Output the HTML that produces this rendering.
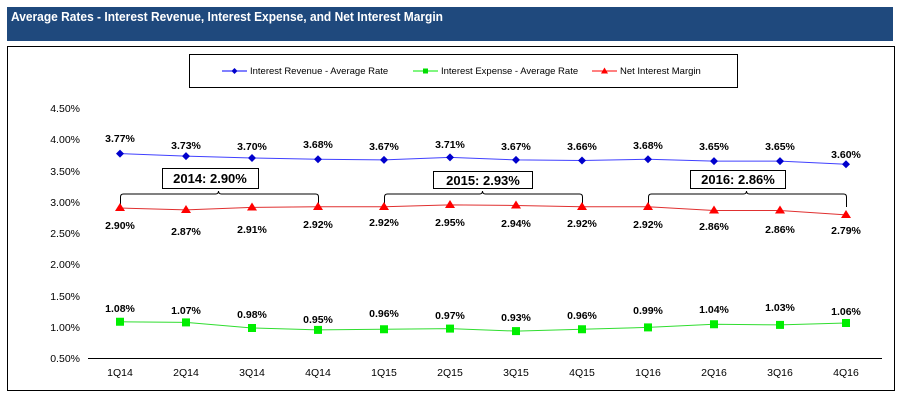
<!DOCTYPE html>
<html><head><style>
body{margin:0;background:#fff;width:905px;height:403px;overflow:hidden;font-family:"Liberation Sans",Arial,sans-serif}
</style></head><body>
<svg width="905" height="403" xmlns="http://www.w3.org/2000/svg" font-family="Liberation Sans, Arial, sans-serif">
<rect x="7" y="7" width="886" height="34" fill="#1f497d"/>
<text x="11" y="21" fill="#fff" font-size="12.5" font-weight="bold" textLength="432" lengthAdjust="spacingAndGlyphs">Average Rates - Interest Revenue, Interest Expense, and Net Interest Margin</text>
<rect x="7.5" y="46.5" width="887" height="344" fill="#fff" stroke="#000"/>
<rect x="189.5" y="54.5" width="548" height="33" fill="#fff" stroke="#000"/>
<g font-size="9.5">
<line x1="222" y1="71" x2="247" y2="71" stroke="#0000ff"/><path d="M234.5 68l3 3-3 3-3-3z" fill="#0000cc"/>
<text x="250" y="74">Interest Revenue - Average Rate</text>
<line x1="413" y1="71" x2="438" y2="71" stroke="#00ee00"/><rect x="423" y="68.5" width="5" height="5" fill="#00dd00"/>
<text x="441" y="74">Interest Expense - Average Rate</text>
<line x1="592" y1="71" x2="617" y2="71" stroke="#ff0000"/><path d="M604.5 67.5l3.5 6h-7z" fill="#ff0000"/>
<text x="620" y="74">Net Interest Margin</text>
</g>
<g font-size="10.5" text-anchor="end">
<text x="80" y="112">4.50%</text><text x="80" y="143">4.00%</text><text x="80" y="175">3.50%</text><text x="80" y="206">3.00%</text><text x="80" y="237">2.50%</text><text x="80" y="268">2.00%</text><text x="80" y="300">1.50%</text><text x="80" y="331">1.00%</text><text x="80" y="362">0.50%</text>
</g>
<line x1="88" y1="358.5" x2="882" y2="358.5" stroke="#000"/>
<g font-size="10.5" text-anchor="middle">
<text x="120" y="376">1Q14</text><text x="186" y="376">2Q14</text><text x="252" y="376">3Q14</text><text x="318" y="376">4Q14</text><text x="384" y="376">1Q15</text><text x="450" y="376">2Q15</text><text x="516" y="376">3Q15</text><text x="582" y="376">4Q15</text><text x="648" y="376">1Q16</text><text x="714" y="376">2Q16</text><text x="780" y="376">3Q16</text><text x="846" y="376">4Q16</text>
</g>
<g fill="none" stroke="#000">
<path d="M120.5 207v-10q0-3 3-3h92q3 0 3-3 0 3 3 3h94q3 0 3 3v10"/>
<path d="M384.5 207v-10q0-3 3-3h92q3 0 3-3 0 3 3 3h94q3 0 3 3v10"/>
<path d="M648.5 207v-10q0-3 3-3h92q3 0 3-3 0 3 3 3h94q3 0 3 3v10"/>
</g>
<rect x="162.5" y="168.5" width="96" height="20" fill="#fff" stroke="#000"/>
<rect x="433.5" y="171.5" width="99" height="17" fill="#fff" stroke="#000"/>
<rect x="690.5" y="170.5" width="95" height="18" fill="#fff" stroke="#000"/>
<g font-size="13" font-weight="bold" text-anchor="middle">
<text x="210" y="183">2014: 2.90%</text><text x="483" y="185">2015: 2.93%</text><text x="738" y="184">2016: 2.86%</text>
</g>
<polyline fill="none" stroke="#4040ff" stroke-width="1" points="120,153.6 186,156.1 252,158 318,159.25 384,159.9 450,157.4 516,159.9 582,160.5 648,159.25 714,161.1 780,161.1 846,164.25"/>
<g fill="#0000cc">
<path d="M120 149.6l4 4-4 4-4-4z"/><path d="M186 152.1l4 4-4 4-4-4z"/><path d="M252 154l4 4-4 4-4-4z"/><path d="M318 155.25l4 4-4 4-4-4z"/><path d="M384 155.9l4 4-4 4-4-4z"/><path d="M450 153.4l4 4-4 4-4-4z"/><path d="M516 155.9l4 4-4 4-4-4z"/><path d="M582 156.5l4 4-4 4-4-4z"/><path d="M648 155.25l4 4-4 4-4-4z"/><path d="M714 157.1l4 4-4 4-4-4z"/><path d="M780 157.1l4 4-4 4-4-4z"/><path d="M846 160.25l4 4-4 4-4-4z"/>
</g>
<polyline fill="none" stroke="#e03030" stroke-width="1" points="120,208 186,209.9 252,207.4 318,206.75 384,206.75 450,204.9 516,205.5 582,206.75 648,206.75 714,210.5 780,210.5 846,214.9"/>
<g fill="#ff0000">
<path d="M120 203l5 8h-10z"/><path d="M186 205l5 8h-10z"/><path d="M252 202.5l5 8h-10z"/><path d="M318 202l5 8h-10z"/><path d="M384 202l5 8h-10z"/><path d="M450 200l5 8h-10z"/><path d="M516 200.5l5 8h-10z"/><path d="M582 202l5 8h-10z"/><path d="M648 202l5 8h-10z"/><path d="M714 205.5l5 8h-10z"/><path d="M780 205.5l5 8h-10z"/><path d="M846 210l5 8h-10z"/>
</g>
<polyline fill="none" stroke="#30dd30" stroke-width="1" points="120,321.75 186,322.4 252,328 318,329.9 384,329.25 450,328.6 516,331.1 582,329.25 648,327.4 714,324.25 780,324.9 846,323"/>
<g fill="#00ee00">
<rect x="116" y="317.75" width="8" height="8"/><rect x="182" y="318.4" width="8" height="8"/><rect x="248" y="324" width="8" height="8"/><rect x="314" y="325.9" width="8" height="8"/><rect x="380" y="325.25" width="8" height="8"/><rect x="446" y="324.6" width="8" height="8"/><rect x="512" y="327.1" width="8" height="8"/><rect x="578" y="325.25" width="8" height="8"/><rect x="644" y="323.4" width="8" height="8"/><rect x="710" y="320.25" width="8" height="8"/><rect x="776" y="320.9" width="8" height="8"/><rect x="842" y="319" width="8" height="8"/>
</g>
<g font-size="10.5" font-weight="bold" text-anchor="middle">
<text x="120" y="142">3.77%</text><text x="186" y="149">3.73%</text><text x="252" y="150">3.70%</text><text x="318" y="148">3.68%</text><text x="384" y="150">3.67%</text><text x="450" y="148">3.71%</text><text x="516" y="150">3.67%</text><text x="582" y="150">3.66%</text><text x="648" y="149">3.68%</text><text x="714" y="150">3.65%</text><text x="780" y="150">3.65%</text><text x="846" y="158">3.60%</text>
<text x="120" y="229">2.90%</text><text x="186" y="235">2.87%</text><text x="252" y="233">2.91%</text><text x="318" y="228">2.92%</text><text x="384" y="226">2.92%</text><text x="450" y="226">2.95%</text><text x="516" y="227">2.94%</text><text x="582" y="227">2.92%</text><text x="648" y="228">2.92%</text><text x="714" y="230">2.86%</text><text x="780" y="233">2.86%</text><text x="846" y="234">2.79%</text>
<text x="120" y="312">1.08%</text><text x="186" y="314">1.07%</text><text x="252" y="318">0.98%</text><text x="318" y="323">0.95%</text><text x="384" y="317">0.96%</text><text x="450" y="319">0.97%</text><text x="516" y="321">0.93%</text><text x="582" y="319">0.96%</text><text x="648" y="314">0.99%</text><text x="714" y="313">1.04%</text><text x="780" y="311">1.03%</text><text x="846" y="315">1.06%</text>
</g>
</svg>
</body></html>
